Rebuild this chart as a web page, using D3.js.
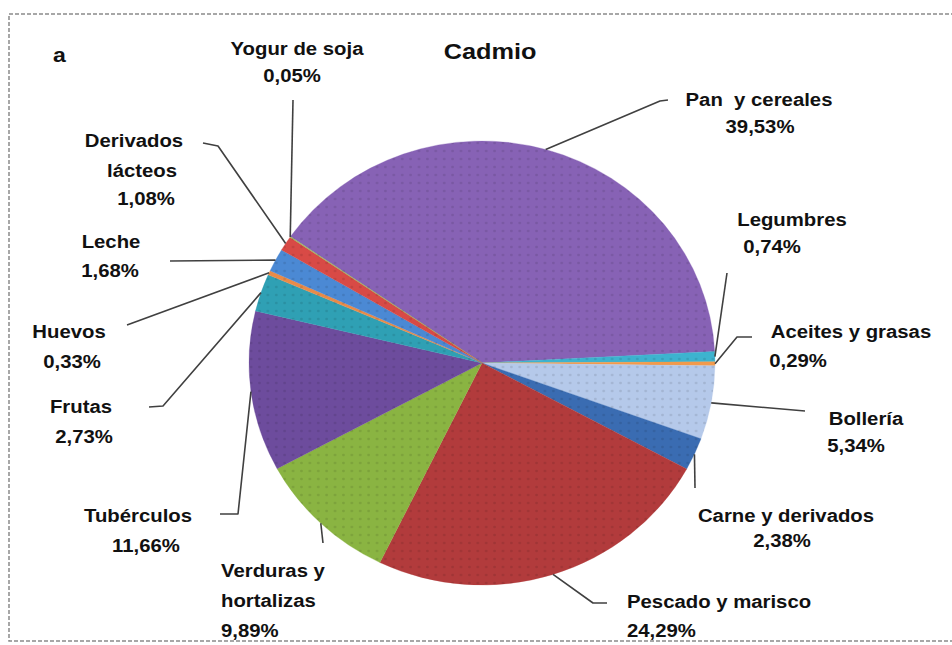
<!DOCTYPE html>
<html><head><meta charset="utf-8">
<script src="https://cdn.jsdelivr.net/npm/d3@7"></script>
<style>html,body{margin:0;padding:0;background:#fff;}svg{display:block;}</style>
</head><body>
<svg id="chart" width="952" height="645"></svg>
<script>
// ---- data ----
const categories = ["Pan  y cereales","Legumbres","Aceites y grasas","Bollería","Carne y derivados","Pescado y marisco","Verduras y\nhortalizas","Tubérculos","Frutas","Huevos","Leche","Derivados\nlácteos","Yogur de soja"];
const values = [39.53,0.74,0.29,5.34,2.38,24.29,9.89,11.66,2.73,0.33,1.68,1.08,0.05];
const colors = ["#8762b5","#3db3cf","#f29a4c","#b5c9ea","#3a6cb2","#b23b3c","#8ab442","#6d4c9d","#2fa0b4","#e98b48","#4b89d4","#d84a46","#9bbb59"];
const title = "Cadmio";
const panelLetter = "a";

// ---- layout (annotation positions) ----
const labelLayout = [
  {anchor:"middle", xs:[759,760], ys:[106,133], leader:[[660,101],[668,100]]},
  {anchor:"middle", xs:[792,772], ys:[226,253], leader:[[727,273]]},
  {anchor:"middle", xs:[851,798], ys:[338,367], leader:[[737,337],[752,337]]},
  {anchor:"middle", xs:[866,856], ys:[425,452], leader:[[805,411]]},
  {anchor:"middle", xs:[786,782], ys:[522,547], leader:[[695,488]]},
  {anchor:"start",  xs:[627,627], ys:[608,637], leader:[[593,603],[607,603]]},
  {anchor:"start",  xs:[221,221,221], ys:[577,607,637], leader:[[323,543]]},
  {anchor:"middle", xs:[138,146], ys:[522,552], leader:[[238,514],[220,514]]},
  {anchor:"middle", xs:[81,84], ys:[413,443], leader:[[163,406],[149,407]]},
  {anchor:"middle", xs:[69,72], ys:[338,368], leader:[[127,325]]},
  {anchor:"middle", xs:[111,110], ys:[248,277], leader:[[170,261]]},
  {anchor:"middle", xs:[134,142,146], ys:[147,177,205], leader:[[218,146],[203,143]]},
  {anchor:"middle", xs:[297,292], ys:[55,82], leader:[[293,100]]}
];

const W = 952, H = 645;
const cx = 482, cy = 363, rx = 233, ry = 222;
const startDeg = -55.3;
const stretch = 1.13;
const font = "'Liberation Sans', Arial, Helvetica, sans-serif";

const svg = d3.select("#chart");

// frame
svg.append("rect").attr("x",9).attr("y",14).attr("width",960).attr("height",627)
  .attr("fill","none").attr("stroke","#8a8a8a").attr("stroke-width",1.5).attr("stroke-dasharray","4,2");

// dot texture pattern
const defs = svg.append("defs");
const pat = defs.append("pattern").attr("id","dots").attr("patternUnits","userSpaceOnUse")
  .attr("width",8).attr("height",8);
pat.append("circle").attr("cx",4).attr("cy",4).attr("r",1.3).attr("fill","rgba(0,0,0,0.10)");

const data = categories.map((c,i)=>({name:c, value:values[i], color:colors[i]}));
const start = startDeg*Math.PI/180;
const pie = d3.pie().value(d=>d.value).sort(null).startAngle(start).endAngle(start+2*Math.PI);
const arcs = pie(data);
const arc = d3.arc().innerRadius(0).outerRadius(ry);

const pg = svg.append("g").attr("transform",`translate(${cx},${cy}) scale(${rx/ry},1)`);
pg.selectAll("path.slice").data(arcs).join("path").attr("class","slice")
  .attr("d",arc).attr("fill",d=>d.data.color).attr("stroke",d=>d.data.color).attr("stroke-width",0.3);
pg.selectAll("path.tex").data(arcs).join("path").attr("class","tex")
  .attr("d",arc).attr("fill","url(#dots)");

// leader lines
const fmt = v => d3.format(".2f")(v).replace(".",",") + "%";
const line = d3.line();
arcs.forEach((a,i)=>{
  const mid = (a.startAngle+a.endAngle)/2;
  const p0 = [cx + rx*Math.sin(mid), cy - ry*Math.cos(mid)];
  const pts = [p0].concat(labelLayout[i].leader);
  svg.append("path").attr("d",line(pts)).attr("fill","none")
    .attr("stroke","#404040").attr("stroke-width",1.6).attr("stroke-linejoin","round");
});

// labels
arcs.forEach((a,i)=>{
  const L = labelLayout[i];
  const lines = a.data.name.split("\n").concat([fmt(a.data.value)]);
  lines.forEach((t,j)=>{
    svg.append("text").attr("transform",`translate(${L.xs[j]},${L.ys[j]}) scale(${stretch},1)`)
      .attr("text-anchor",L.anchor).attr("font-family",font).attr("font-weight","bold")
      .attr("font-size",18).attr("fill","#111").style("white-space","pre").text(t);
  });
});

// title & panel letter
svg.append("text").attr("transform",`translate(490,59) scale(1.15,1)`).attr("text-anchor","middle")
  .attr("font-family",font).attr("font-weight","bold").attr("font-size",22).attr("fill","#111").text(title);
svg.append("text").attr("transform",`translate(53,62) scale(1.1,1)`).attr("text-anchor","start")
  .attr("font-family",font).attr("font-weight","bold").attr("font-size",21).attr("fill","#111").text(panelLetter);
</script>
</body></html>
